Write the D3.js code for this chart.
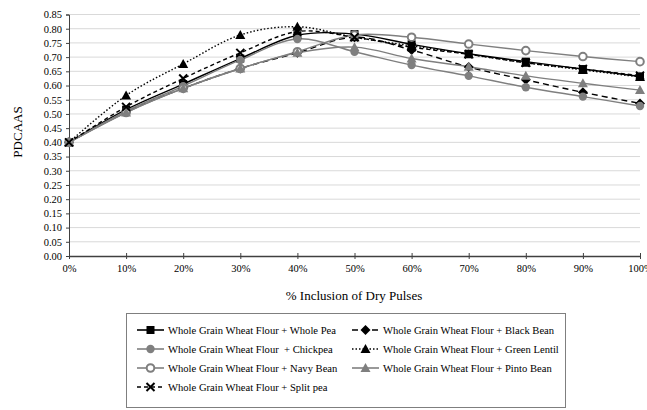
<!DOCTYPE html>
<html lang="en">
	<head>
		<meta charset="UTF-8">
		<title>PDCAAS vs dry pulse inclusion</title>
		<script src="https://d3js.org/d3.v7.min.js"></script>
		<style>
			body { margin: 0; background: white; }
			text { font-family: 'Liberation Serif', 'Times New Roman', serif; fill: #000; }
		</style>
	</head>
	<body>
		<div id="chart"></div>
		<script>
			// data
			const inclusion = ["0%","10%","20%","30%","40%","50%","60%","70%","80%","90%","100%"];
			const yTicks = [0,0.05,0.10,0.15,0.20,0.25,0.30,0.35,0.40,0.45,0.50,0.55,0.60,0.65,0.70,0.75,0.80,0.85];

			const wholePea   = [0.40,0.515,0.605,0.695,0.777,0.781,0.745,0.712,0.684,0.658,0.632];
			const blackBean  = [0.40,0.508,0.590,0.660,0.715,0.770,0.725,0.665,0.620,0.576,0.537];
			const chickpea   = [0.40,0.510,0.598,0.690,0.764,0.719,0.672,0.634,0.594,0.561,0.528];
			const greenLentil= [0.40,0.565,0.676,0.778,0.807,0.770,0.740,0.710,0.680,0.655,0.630];
			const navyBean   = [0.40,0.505,0.590,0.660,0.719,0.778,0.770,0.746,0.723,0.702,0.684];
			const pintoBean  = [0.40,0.505,0.590,0.660,0.715,0.735,0.695,0.666,0.634,0.608,0.584];
			const splitPea   = [0.40,0.525,0.625,0.715,0.790,0.770,0.735,0.710,0.680,0.658,0.635];

			const seriesNames = [
				"Whole Grain Wheat Flour + Whole Pea",
				"Whole Grain Wheat Flour + Black Bean",
				"Whole Grain Wheat Flour  + Chickpea",
				"Whole Grain Wheat Flour + Green Lentil",
				"Whole Grain Wheat Flour + Navy Bean",
				"Whole Grain Wheat Flour + Pinto Bean",
				"Whole Grain Wheat Flour + Split pea"
			];

			var black = "#000000", grey = "#7f7f7f";
			var series = [
				{ name: seriesNames[0], values: wholePea,    color: black, dash: null,  marker: "square" },
				{ name: seriesNames[1], values: blackBean,   color: black, dash: "6,4", marker: "diamond" },
				{ name: seriesNames[2], values: chickpea,    color: grey,  dash: null,  marker: "circle" },
				{ name: seriesNames[3], values: greenLentil, color: black, dash: "1.5,2", marker: "triangle" },
				{ name: seriesNames[4], values: navyBean,    color: grey,  dash: null,  marker: "ring" },
				{ name: seriesNames[5], values: pintoBean,   color: grey,  dash: null,  marker: "triangle" },
				{ name: seriesNames[6], values: splitPea,    color: black, dash: "4,3", marker: "cross" }
			];

			var width = 647, height = 410;
			var plotLeft = 69, plotRight = 640, plotTop = 14.5, plotBottom = 256;

			var svg = d3.select("#chart").append("svg")
				.attr("width", width)
				.attr("height", height);

			var x = d3.scalePoint().domain(inclusion).range([plotLeft, plotRight]);
			var y = d3.scaleLinear().domain([0, 0.85]).range([plotBottom, plotTop]);

			// gridlines
			svg.append("g")
				.selectAll("line")
				.data(yTicks.slice(1))
				.enter()
				.append("line")
				.attr("x1", plotLeft).attr("x2", plotRight)
				.attr("y1", function (d) { return y(d); })
				.attr("y2", function (d) { return y(d); })
				.attr("stroke", "#d9d9d9")
				.attr("stroke-width", 1);

			// y axis
			var yAxis = svg.append("g")
				.attr("transform", "translate(" + plotLeft + ",0)")
				.call(d3.axisLeft(y).tickValues(yTicks).tickFormat(d3.format(".2f")).tickSize(3).tickPadding(4));
			yAxis.select(".domain").attr("stroke", "#404040");
			yAxis.selectAll(".tick line").attr("stroke", "#404040");
			yAxis.selectAll("text").style("font-size", "10.5px").attr("fill", "#000");

			// x axis, ticks cross the line
			var xAxis = svg.append("g")
				.attr("transform", "translate(0," + plotBottom + ")")
				.call(d3.axisBottom(x).tickSizeInner(3).tickSizeOuter(0).tickPadding(6));
			xAxis.select(".domain").attr("stroke", "#404040").attr("stroke-width", 1.3);
			xAxis.selectAll(".tick line").attr("y1", -3).attr("stroke", "#404040");
			xAxis.selectAll("text").style("font-size", "10.5px").attr("fill", "#000");

			// axis titles
			svg.append("text")
				.attr("transform", "translate(22,132) rotate(-90)")
				.attr("text-anchor", "middle")
				.style("font-size", "13px")
				.text("PDCAAS");

			svg.append("text")
				.attr("x", 354).attr("y", 300)
				.attr("text-anchor", "middle")
				.style("font-size", "13px")
				.text("% Inclusion of Dry Pulses");

			function drawMarker(g, type, color, cx, cy) {
				if (type == "square") {
					g.append("rect").attr("x", cx - 4).attr("y", cy - 4).attr("width", 8).attr("height", 8).attr("fill", color);
				} else if (type == "diamond") {
					g.append("path").attr("d", "M" + cx + "," + (cy - 5) + "L" + (cx + 5) + "," + cy + "L" + cx + "," + (cy + 5) + "L" + (cx - 5) + "," + cy + "Z").attr("fill", color);
				} else if (type == "circle") {
					g.append("circle").attr("cx", cx).attr("cy", cy).attr("r", 4.2).attr("fill", color);
				} else if (type == "ring") {
					g.append("circle").attr("cx", cx).attr("cy", cy).attr("r", 3.8).attr("fill", "white").attr("stroke", color).attr("stroke-width", 2);
				} else if (type == "triangle") {
					g.append("path").attr("d", "M" + cx + "," + (cy - 5) + "L" + (cx + 5) + "," + (cy + 4) + "L" + (cx - 5) + "," + (cy + 4) + "Z").attr("fill", color);
				} else if (type == "cross") {
					g.append("path").attr("d", "M" + (cx - 4) + "," + (cy - 4) + "L" + (cx + 4) + "," + (cy + 4) + "M" + (cx + 4) + "," + (cy - 4) + "L" + (cx - 4) + "," + (cy + 4)).attr("stroke", color).attr("stroke-width", 2).attr("fill", "none");
				}
			}

			var line = d3.line()
				.x(function (d, i) { return x(inclusion[i]); })
				.y(function (d) { return y(d); })
				.curve(d3.curveCardinal.tension(0));

			// lines and markers
			series.forEach(function (s) {
				svg.append("path")
					.datum(s.values)
					.attr("d", line)
					.attr("fill", "none")
					.attr("stroke", s.color)
					.attr("stroke-width", 1.4)
					.attr("stroke-dasharray", s.dash);
			});
			series.forEach(function (s) {
				var g = svg.append("g");
				s.values.forEach(function (v, i) {
					drawMarker(g, s.marker, s.color, x(inclusion[i]), y(v));
				});
			});

			// legend
			svg.append("rect")
				.attr("x", 126.5).attr("y", 313.5)
				.attr("width", 439).attr("height", 94)
				.attr("fill", "white")
				.attr("stroke", "#7f7f7f");

			series.forEach(function (s, i) {
				var col = i % 2, row = Math.floor(i / 2);
				var lx = col == 0 ? 137 : 352;
				var ly = 330 + row * 19;
				var g = svg.append("g");
				g.append("line")
					.attr("x1", lx).attr("x2", lx + 27)
					.attr("y1", ly).attr("y2", ly)
					.attr("stroke", s.color)
					.attr("stroke-width", 1.6)
					.attr("stroke-dasharray", s.dash);
				drawMarker(g, s.marker, s.color, lx + 13.5, ly);
				g.append("text")
					.attr("x", lx + 31).attr("y", ly + 4)
					.style("font-size", "10.6px")
					.style("white-space", "pre")
					.text(s.name);
			});
		</script>
	</body>
</html>
